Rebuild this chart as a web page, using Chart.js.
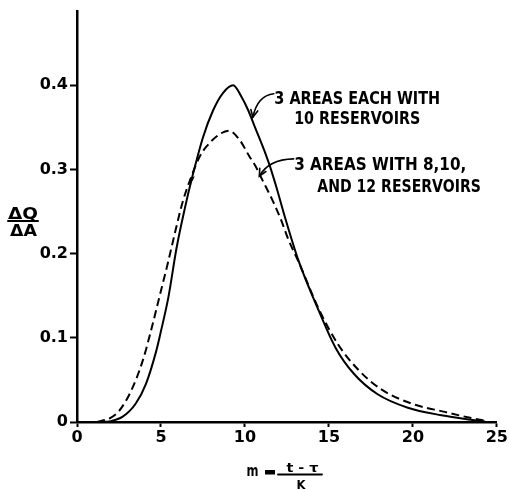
<!DOCTYPE html>
<html><head><meta charset="utf-8">
<script src="https://cdn.jsdelivr.net/npm/chart.js@4.4.1/dist/chart.umd.min.js"></script>
<style>html,body{margin:0;padding:0;background:#fff;}#wrap{width:509px;height:490px;}</style>
</head><body><div id="wrap"><canvas id="c" width="509" height="490"></canvas></div>
<script>
// ---- data ----
const solidX = [1.4, 2.0, 2.7, 3.5, 4.1, 4.7, 5.0, 5.44, 5.93, 6.4, 6.85, 7.5, 8.1, 8.7, 9.3, 9.8, 10.2, 10.6, 11.2, 11.5, 11.9, 12.4, 13.2, 14.4, 15.4, 16.5, 17.9, 19.7, 21.7, 23.3, 24.3];
const solidY = [0, 0.001, 0.006, 0.022, 0.045, 0.083, 0.108, 0.148, 0.207, 0.252, 0.290, 0.338, 0.370, 0.391, 0.400, 0.386, 0.370, 0.350, 0.320, 0.303, 0.277, 0.242, 0.191, 0.132, 0.088, 0.057, 0.033, 0.017, 0.008, 0.003, 0.0005];
const dashedX = [1.2, 2.0, 2.5, 3.2, 3.9, 4.4, 4.9, 5.4, 5.8, 6.3, 6.8, 7.3, 7.7, 8.5, 9.05, 9.65, 10.25, 10.6, 11.05, 11.65, 12.15, 12.6, 13.2, 14.4, 15.55, 16.75, 18.1, 19.9, 21.9, 23.4, 24.4];
const dashedY = [0, 0.005, 0.013, 0.036, 0.072, 0.108, 0.148, 0.188, 0.222, 0.262, 0.291, 0.315, 0.327, 0.342, 0.346, 0.336, 0.316, 0.305, 0.287, 0.263, 0.240, 0.216, 0.190, 0.134, 0.092, 0.062, 0.039, 0.022, 0.012, 0.005, 0.001];
const xTicks = [0, 5, 10, 15, 20, 25];
const yTicks = [0, 0.1, 0.2, 0.3, 0.4];
const seriesLabels = ['3 AREAS EACH WITH 10 RESERVOIRS', '3 AREAS WITH 8,10, AND 12 RESERVOIRS'];

const toPts = (xs, ys) => xs.map((x, i) => ({x: x, y: ys[i]}));
const FONT = '"DejaVu Sans", "Liberation Sans", sans-serif';

// annotation placement (data units)
const notes = [
  {lines: [{t: '3 AREAS EACH WITH', x0: 11.75, x1: 21.62, y: 0.378},
           {t: '10 RESERVOIRS', x0: 12.93, x1: 20.44, y: 0.354}],
   arrow: {from: [11.72, 0.390], ctrl: [10.74, 0.388], to: [10.47, 0.362]}},
  {lines: [{t: '3 AREAS WITH 8,10,', x0: 12.93, x1: 23.18, y: 0.2988},
           {t: 'AND 12 RESERVOIRS', x0: 14.31, x1: 24.05, y: 0.273}],
   arrow: {from: [12.9, 0.3126], ctrl: [11.4, 0.312], to: [10.86, 0.292]}}
];

function fitText(ctx, text, x, y, w, size) {
  ctx.font = 'bold ' + size + 'px ' + FONT;
  const m = ctx.measureText(text).width;
  ctx.save();
  ctx.translate(x, y);
  ctx.scale(w / m, 1);
  ctx.fillText(text, 0, 0);
  ctx.restore();
}

function arrow(ctx, a, b, c) {
  ctx.beginPath();
  ctx.moveTo(a[0], a[1]);
  ctx.quadraticCurveTo(b[0], b[1], c[0], c[1]);
  ctx.stroke();
  const ang = Math.atan2(c[1] - b[1], c[0] - b[0]);
  const L = 8, s = 0.45;
  ctx.beginPath();
  ctx.moveTo(c[0] - L * Math.cos(ang - s), c[1] - L * Math.sin(ang - s));
  ctx.lineTo(c[0], c[1]);
  ctx.lineTo(c[0] - L * Math.cos(ang + s), c[1] - L * Math.sin(ang + s));
  ctx.stroke();
}

const annotPlugin = {
  id: 'annot',
  afterDraw(chart) {
    const ctx = chart.ctx, xs = chart.scales.x, ys = chart.scales.y;
    const P = (p) => [xs.getPixelForValue(p[0]), ys.getPixelForValue(p[1])];
    ctx.save();
    ctx.fillStyle = '#000';
    ctx.strokeStyle = '#000';
    ctx.textBaseline = 'alphabetic';
    ctx.lineCap = 'round';
    notes.forEach(n => {
      n.lines.forEach(l => {
        const x0 = xs.getPixelForValue(l.x0), x1 = xs.getPixelForValue(l.x1);
        fitText(ctx, l.t, x0, ys.getPixelForValue(l.y), x1 - x0, 17);
      });
      ctx.lineWidth = 1.6;
      arrow(ctx, P(n.arrow.from), P(n.arrow.ctrl), P(n.arrow.to));
    });
    // small mark at the crossing point
    const cp = P([6.83, 0.291]);
    ctx.beginPath();
    ctx.moveTo(cp[0] - 3, cp[1] + 3);
    ctx.lineTo(cp[0] + 3, cp[1] - 1);
    ctx.lineTo(cp[0] + 1, cp[1] + 4);
    ctx.closePath();
    ctx.fill();

    // y-axis title: fraction ΔQ / ΔA
    fitText(ctx, 'ΔQ', 8, 218.5, 30, 15);
    ctx.lineWidth = 2;
    ctx.beginPath(); ctx.moveTo(8, 221); ctx.lineTo(38, 221); ctx.stroke();
    fitText(ctx, 'ΔA', 10, 235.5, 27, 15);

    // x-axis title: m = (t − τ) / K
    fitText(ctx, 'm', 246.5, 475.5, 12, 15);
    ctx.fillRect(265, 470, 10, 4.5);
    ctx.lineWidth = 1.8;
    ctx.beginPath(); ctx.moveTo(278, 474.5); ctx.lineTo(322, 474.5); ctx.stroke();
    fitText(ctx, 't - τ', 286.5, 471.5, 32, 12);
    fitText(ctx, 'K', 296.5, 488.5, 9, 12);
    ctx.restore();
  }
};

const tickFont = {family: FONT, weight: 'bold', size: 16};

new Chart(document.getElementById('c'), {
  type: 'line',
  data: {
    datasets: [
      {label: seriesLabels[0], data: toPts(solidX, solidY), borderColor: '#000', borderWidth: 2,
       pointRadius: 0, cubicInterpolationMode: 'monotone', fill: false},
      {label: seriesLabels[1], data: toPts(dashedX, dashedY), borderColor: '#000', borderWidth: 2,
       borderDash: [8, 4.5], pointRadius: 0, cubicInterpolationMode: 'monotone', fill: false}
    ]
  },
  options: {
    responsive: false,
    animation: false,
    devicePixelRatio: 1,
    layout: {padding: {left: 0, top: 11, right: 10, bottom: 0}},
    plugins: {legend: {display: false}, tooltip: {enabled: false}},
    scales: {
      x: {
        type: 'linear', min: 0, max: 25,
        afterBuildTicks: s => { s.ticks = xTicks.map(v => ({value: v})); },
        afterFit: s => { s.height = 68; },
        ticks: {font: tickFont, color: '#000', padding: 1, maxRotation: 0, autoSkip: false,
                callback: v => String(v)},
        grid: {drawOnChartArea: false, drawTicks: true, tickLength: 5, tickColor: '#000', tickWidth: 2},
        border: {display: true, color: '#000', width: 2.5}
      },
      y: {
        type: 'linear', min: 0, max: 0.4875,
        afterBuildTicks: s => { s.ticks = yTicks.map(v => ({value: v})); },
        afterFit: s => { s.width = 77; },
        ticks: {font: tickFont, color: '#000', padding: 2, autoSkip: false,
                callback: v => v === 0 ? '0' : v.toFixed(1)},
        grid: {drawOnChartArea: false, drawTicks: true, tickLength: 7, tickColor: '#000', tickWidth: 2},
        border: {display: true, color: '#000', width: 2.5}
      }
    }
  },
  plugins: [annotPlugin]
});
</script>
</body></html>
